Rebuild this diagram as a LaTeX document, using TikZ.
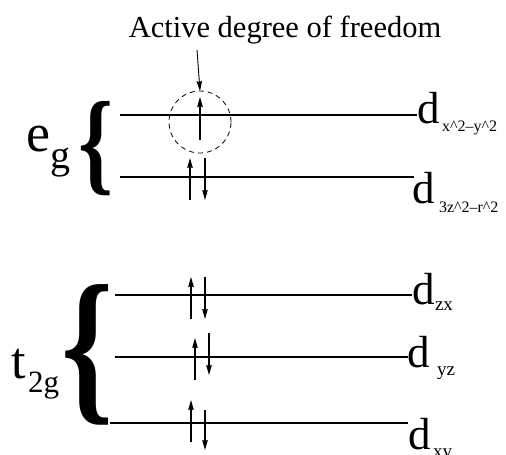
\documentclass[tikz,border=0pt]{standalone}
\usepackage{fontspec}
\setmainfont{Liberation Serif}
\usetikzlibrary{arrows.meta}
\newcommand{\fsz}[1]{\fontsize{#1}{#1}\selectfont}
\newcommand{\crt}{\textasciicircum}
\newcommand{\narrowbrace}{\scalebox{0.78}[1]{\bfseries\{}}
\tikzset{
  every node/.style={inner sep=0pt,outer sep=0pt},
  lvl/.style={line width=1.3pt},
  spin/.style={-{Stealth[length=10pt,width=5.5pt,inset=1pt]},line width=1.1pt},
  ptr/.style={-{Stealth[length=10pt,width=5.5pt,inset=1pt]},line width=0.9pt},
  dorb/.style={anchor=base west,font=\fsz{45}},
  dsub/.style={anchor=base west,font=\fsz{16}},
  tsub/.style={anchor=base west,font=\fsz{19}},
  brc/.style={anchor=base west},
}

\begin{document}
\begin{tikzpicture}[x=1pt,y=-1pt]
\useasboundingbox (0,0) rectangle (506,455);

% ---- caption and marked spin ----
\node[anchor=base,font=\fsz{30.5}] (title) at (285,37) {Active degree of freedom};
\node[circle,draw,dash pattern=on 5pt off 4pt,line width=0.8pt,minimum size=62pt] (act) at (200,122) {};
\coordinate (from) at (197,50);
\draw[ptr] (from) -- (act.north);

% ---- e_g levels ----
\node[anchor=base west,font=\fsz{54}] (e) at (26,151) {e};
\node[anchor=base west,font=\fsz{40}] (eg) at (50,168) {g};
\node[brc,font=\fsz{114}] (egbr) at (78,180) {\narrowbrace};

\node[dorb] (d1) at (417,123) {d};
\node[dsub] (d1s) at (442,131) {x\crt 2--y\crt 2};
\node[dorb] (d2) at (412,203) {d};
\node[dsub] (d2s) at (439,212) {3z\crt 2--r\crt 2};

\draw[lvl] (120,115) -- (417,115);
\draw[lvl] (120,177) -- (414,177);

\draw[spin] (200,140) -- (200,97);
\draw[spin] (190,200) -- (190,158);
\draw[spin] (205,158) -- (205,200);

% ---- t_2g levels ----
\node[anchor=base west,font=\fsz{52}] (t) at (12,378) {t};
\node[anchor=base west,font=\fsz{31}] (tg) at (28,392) {2g};
\node[brc,font=\fsz{170}] (tgbr) at (61,402) {\narrowbrace};

\node[dorb] (d3) at (412,304) {d};
\node[tsub] (d3s) at (435,310) {zx};
\node[dorb] (d4) at (407,367) {d};
\node[tsub] (d4s) at (437,375) {yz};
\node[dorb] (d5) at (408,449) {d};
\node[tsub] (d5s) at (433,457) {xy};

\draw[lvl] (115,295) -- (412,295);
\draw[lvl] (115,357) -- (408,357);
\draw[lvl] (110,423) -- (408,423);

\draw[spin] (191,319) -- (191,277);
\draw[spin] (205,277) -- (205,319);
\draw[spin] (195,380) -- (195,338);
\draw[spin] (209,333) -- (209,375);
\draw[spin] (191,442) -- (191,400);
\draw[spin] (205,410) -- (205,450);

\end{tikzpicture}
\end{document}
